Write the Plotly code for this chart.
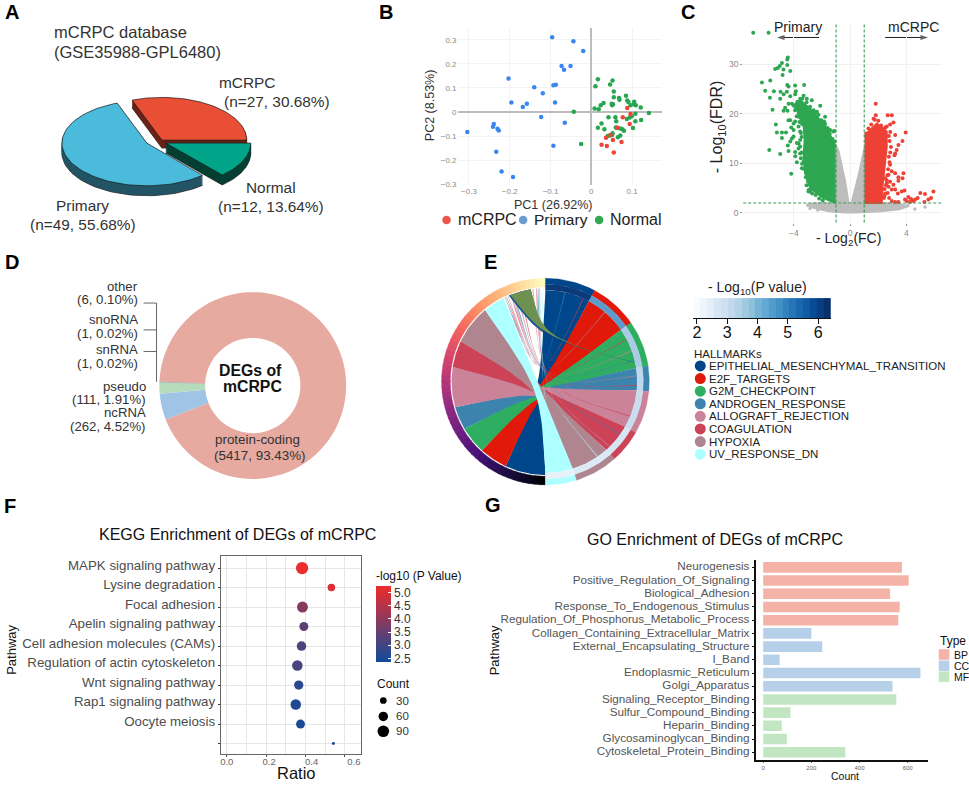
import math
import numpy as np
import plotly.graph_objects as go
from plotly.colors import sample_colorscale

W, H = 969, 785
FONT = "Liberation Sans"

# ---------- A: 3D pie ----------
a_labels = ["mCRPC", "Primary", "Normal"]
a_counts = [27, 49, 12]
a_top = ["#E94F35", "#4ABBDA", "#00A488"]
a_side = ["#6B2218", "#235566", "#063F33"]

# ---------- B: PCA ----------
b_blue_x = [-0.096,-0.044,-0.020,-0.073,-0.067,-0.051,-0.203,-0.140,-0.093,-0.087,-0.119,-0.196,-0.158,-0.168,-0.089,-0.123,-0.065,-0.093,-0.239,-0.241,-0.230,-0.227,-0.304,-0.233,-0.220,-0.192]
b_blue_y = [0.311,0.294,0.254,0.191,0.176,0.191,0.139,0.103,0.111,0.113,0.078,0.039,0.034,0.021,0.039,-0.021,-0.045,-0.140,-0.050,-0.061,-0.070,-0.077,-0.083,-0.165,-0.248,-0.270]
b_green_x = [-0.043,-0.025,0.010,0.016,0.046,0.052,0.055,0.055,0.068,0.069,0.085,0.088,0.091,0.030,0.023,0.008,0.018,0.050,0.053,0.051,0.096,0.104,0.109,0.105,0.121,0.141,0.108,0.099,0.094,0.087,0.108,0.122,0.102,0.042,0.025,0.016,0.032,0.059,0.061,0.060,0.065,0.071,0.076,0.080,0.071,0.065,0.052,0.051,0.040,0.046]
b_green_y = [0.001,-0.133,0.107,0.136,0.114,0.131,0.085,0.061,0.058,0.051,0.067,0.048,0.041,0.037,0.028,0.014,0.011,0.034,0.032,0.028,0.028,0.032,0.028,0.043,0.019,-0.004,-0.007,-0.018,-0.023,-0.029,-0.039,-0.033,-0.067,-0.022,-0.048,-0.066,-0.072,-0.022,-0.039,-0.065,-0.067,-0.069,-0.072,-0.078,-0.098,-0.105,-0.088,-0.096,-0.100,-0.098]
b_red_x = [0.088,0.096,0.077,0.094,0.063,0.036,0.053,0.074,0.025,0.038,0.055,0.047]
b_red_y = [0.017,-0.008,-0.022,-0.050,-0.066,-0.107,-0.117,-0.125,-0.136,-0.142,-0.169,-0.096]

# ---------- C: volcano (dense clouds read as outlines, outer genes read one by one) ----------
c_grey_x = [-1.02,-0.83,-0.36,-0.07,0,0.08,0.59,1.02,1.02,3.2,4.2,3.5,2,0.3,-0.3,-1.5,-2.6,-3.1,-2.5,-1.02]
c_grey_y = [13.7,12.7,6.7,2.0,0.4,2.0,7.7,13.3,2,2,1.4,0.7,0.25,0.05,0.05,0.3,1.0,1.7,2,2]
c_grey_px = [-3.0,-2.85,-2.5,-2.3,-2.0,4.6,5.32,3.9,3.4,4.1]
c_grey_py = [1.5,0.9,1.1,0.6,0.9,0.8,1.2,1.3,1.1,1.6]
c_green_x = [-1.02,-1.9,-2.84,-3.2,-3.31,-3.24,-3.3,-3.7,-3.9,-3.55,-2.73,-2.2,-1.78,-1.4,-1.02]
c_green_y = [2,3,5,8,11.3,14.7,17.4,20,22,22.7,20.7,19,17.5,15.5,13.4]
c_green_px = [-6.89,-5.80,-4.43,-4.47,-4.85,-4.47,-5.0,-5.14,-5.33,-4.74,-4.26,-4.80,-5.68,-6.27,-4.47,-4.38,-3.91,-3.27,-6.04,-5.42,-4.95,-5.70,-4.97,-4.73,-4.5,-4.26,-3.86,-3.91,-5.52,-4.62,-4.73,-4.45,-5.28,-4.14,-4.19,-5.21,-4.85,-4.56,-4.85,-5.75,-4.97,-4.38,-4.19,-4.43,-4.14,-3.9,-3.67,-3.79,-2.96,-1.46,-1.13,-3.91,-3.55,-3.67,-3.31,-3.07,-3.43,-2.84,-2.6,-2.84,-3.55,-3.67,-4.02,-4.38,-3.91,-4.02,-4.26,-3.79,-3.55,-3.55,-1.78,-1.43,-1.2,-2.13,-2.13,-1.78,-2.6,-2.36,-3.08,-2.73,-3.55,-3.31,-4.38,-3.91,-4.26,-3.67,-4.02,-3.31,
              -3.45,-3.5,-3.42,-3.3,-3.15,-3.0,-3.1,-2.95,-2.7,-2.45,-2.2,-1.95,-3.45,-3.5,-3.42,-3.6,-3.8,-3.85,-4.0,-3.75,-3.4,-3.1,-2.85,-2.5,-2.25,-2.05,-1.85,-1.6,-1.45,-1.25,-1.1]
c_green_py = [36.3,36.3,31.3,30.9,30.2,29.8,29.6,29.2,29.0,28.9,28.6,27.8,26.7,26.3,25.8,25.5,25.7,25.8,24.6,24.5,24.4,23.2,23.0,23.9,24.4,23.5,24.5,23.9,20.8,21.2,20.6,20.6,17.8,22.0,17.2,16.2,16.2,16.2,15.1,12.7,11.9,12.5,7.9,13.6,15.0,11.4,14.0,10.2,4.3,16.6,16.5,12.3,12.0,13.0,10.3,9.4,9.0,7.0,6.7,4.3,16.4,17.4,16.7,18.7,18.4,15.4,14.4,14.1,13.4,14.7,17.9,16.7,16.4,18.0,21.6,19.4,20.7,20.4,23.0,22.7,23.0,23.6,22.0,20.7,18.7,19.4,18.0,18.7,
              12.2,11.0,9.9,8.9,7.2,6.4,5.6,4.6,3.9,3.6,2.9,2.5,15.3,16.1,17.9,18.3,19.5,21.0,21.6,22.4,23.0,22.3,21.4,20.2,19.8,18.7,18.4,17.1,15.9,14.9,14.4]
c_red_x = [1.02,2.25,2.3,2.44,2.6,2.6,1.9,1.42,1.02]
c_red_y = [2,2,5.3,9.3,13.3,16.4,18.0,16.7,15.4]
c_red_px = [1.82,1.82,1.66,2.67,2.96,3.08,2.84,3.95,3.2,3.72,3.43,3.31,3.2,3.15,2.84,2.96,3.2,2.73,3.43,3.79,3.72,3.43,3.08,2.84,3.2,3.67,3.86,3.39,2.67,2.96,2.77,3.9,4.14,4.33,4.5,4.62,4.8,4.03,4.26,5.32,4.99,5.92,5.75,5.56,5.28,3.2,3.43,2.96,2.44,2.6,2.49,2.73,2.13,
            2.4,2.5,2.45,2.55,2.6,2.65,2.7,2.8,2.75,2.85,2.9,2.8,2.75,2.85,2.5,2.2,2.0,1.75,1.5,1.3,1.15,2.35,2.6]
c_red_py = [22.0,19.7,19.0,19.7,19.7,18.2,17.8,16.2,15.7,14.5,13.7,12.7,12.0,11.6,9.7,8.4,8.0,7.7,7.2,8.0,7.0,6.5,5.7,6.3,4.7,4.3,4.5,3.9,4.0,4.7,3.0,2.7,3.2,2.8,2.4,2.7,3.0,2.4,2.2,3.8,4.0,4.3,3.0,2.7,2.2,2.2,2.2,2.4,3.4,6.0,7.0,5.3,3.3,
            3.0,3.9,4.8,5.6,6.6,7.6,8.8,10.2,11.3,12.2,13.3,14.5,15.5,16.3,17.2,17.6,18.6,18.8,17.8,17.0,16.0,16.9,17.4]

# ---------- D: donut ----------
d_labels = ["protein-coding", "ncRNA", "pseudo", "snRNA", "snoRNA", "other"]
d_values = [5417, 262, 111, 1, 1, 6]
d_colors = ["#E6AAA1", "#A0C4E6", "#B5DBBD", "#999999", "#999999", "#999999"]

# ---------- E: chord ----------
e_names = ["EPITHELIAL_MESENCHYMAL_TRANSITION","E2F_TARGETS","G2M_CHECKPOINT","ANDROGEN_RESPONSE","ALLOGRAFT_REJECTION","COAGULATION","HYPOXIA","UV_RESPONSE_DN"]
e_colors = ["#00468B","#E0190A","#2EAE60","#3C84AE","#CB8399","#CC4256","#AF8590","#AEFFFF"]
e_heat = ["#0A3A7A","#5A9CCB","#A9CBE3","#BDD7EC","#C8DDF0","#D5E5F3","#DCEAF5","#E8F1FA"]
e_right_size = [28.3,27.1,26.0,14.1,24.2,18.7,24.3,17.3]
e_left_size = [25.0,17.5,17.0,14.5,25.0,16.5,24.5,13.4]
e_thin_right = [12,24,40,62,70,76,86,92,100,112,125,135,145,168]
e_thin_left = [334,335,336,338,339,340,342,344,352,354,355,356,357,358]
e_thin_color = [3,5,6,5,4,3,6,5,4,5,3,4,7,7]
e_bar_values = [2.0,2.2,2.45,2.7,2.9,3.15,3.35,3.6,3.8,4.05,4.25,4.5,4.7,4.95,5.15,5.4,5.6,5.85,6.05,6.3]

# ---------- F: KEGG ----------
f_pathways = ["MAPK signaling pathway","Lysine degradation","Focal adhesion","Apelin signaling pathway","Cell adhesion molecules (CAMs)","Regulation of actin cytoskeleton","Wnt signaling pathway","Rap1 signaling pathway","Oocyte meiosis","\u00a0"]
f_ratio = [0.383,0.532,0.385,0.392,0.380,0.359,0.366,0.351,0.375,0.542]
f_logp = [5.2,5.0,3.9,3.4,3.2,3.1,2.7,2.6,2.55,2.4]
f_count = [102,38,81,54,61,74,58,74,54,6]
f_legend_counts = [30,60,90]

# ---------- G: GO ----------
g_bp = ["Neurogenesis","Positive_Regulation_Of_Signaling","Biological_Adhesion","Response_To_Endogenous_Stimulus","Regulation_Of_Phosphorus_Metabolic_Process"]
g_bp_v = [576,604,527,567,561]
g_cc = ["Collagen_Containing_Extracellular_Matrix","External_Encapsulating_Structure","I_Band","Endoplasmic_Reticulum","Golgi_Apparatus"]
g_cc_v = [200,245,68,653,537]
g_mf = ["Signaling_Receptor_Binding","Sulfur_Compound_Binding","Heparin_Binding","Glycosaminoglycan_Binding","Cytoskeletal_Protein_Binding"]
g_mf_v = [553,113,77,98,341]
g_types = ["BP","CC","MF"]
g_colors = ["#F4B3A6","#B7D0EA","#C2E6C2"]

fig = go.Figure()
ann = []
shapes = []


def T(x, y, text, size=13, color="#222222", anchor="left", bold=False, angle=0):
    if bold:
        text = "<b>" + text + "</b>"
    if angle == 0:
        x = x - 1.5 if anchor == "left" else (x + 1.5 if anchor == "right" else x)
    ann.append(dict(x=x, y=y, xref="x", yref="y", text=text, showarrow=False,
                    xanchor=anchor, yanchor="middle", textangle=angle,
                    font=dict(family=FONT, size=size, color=color)))


def poly(xs, ys, fill, line=None, lw=0, xa="x", ya="y", opacity=1):
    fig.add_trace(go.Scatter(x=xs, y=ys, mode="lines", fill="toself", fillcolor=fill,
                             line=dict(color=line or fill, width=lw), hoverinfo="skip",
                             showlegend=False, xaxis=xa, yaxis=ya, opacity=opacity))


def dots(xs, ys, color, size, xa="x", ya="y", symbol="circle"):
    fig.add_trace(go.Scatter(x=xs, y=ys, mode="markers", hoverinfo="skip", showlegend=False,
                             marker=dict(color=color, size=size, symbol=symbol, line=dict(width=0)),
                             xaxis=xa, yaxis=ya))


def dx(l, r):
    return [l / W, r / W]


def dy(t, b):
    return [1 - b / H, 1 - t / H]


# ========== A ==========
a_frac = np.array(a_counts) / sum(a_counts) * 360
a_start = [0, a_frac[0], a_frac[0] + a_frac[1]]
a_centre = [(161, 140), (146, 143), (165, 143)]
a_depth = [8, 10, 10]
RX, RY = 85, 43
for i in [1, 0, 2]:
    cx, cy = a_centre[i]
    th = np.radians(np.linspace(a_start[i], a_start[i] + a_frac[i], 70))
    px = [cx] + list(cx + RX * np.cos(th)) + [cx]
    py = [cy] + list(cy - RY * np.sin(th)) + [cy]
    t = a_depth[i]
    poly(px, [v + t for v in py], a_side[i], "#1a1a1a", 0.7)
    for s in range(t - 1, 0, -1):
        poly(px, [v + s for v in py], a_side[i], a_side[i], 0.5)
    poly(px, py, a_top[i], "#1a1a1a", 0.7)

T(52.7, 31, "mCRPC database", 16.5, "#333333")
T(52.7, 51.7, "(GSE35988-GPL6480)", 16.5, "#333333")
T(218, 81.7, "mCRPC", 15.4, "#333333")
T(223, 100.7, "(n=27, 30.68%)", 15.4, "#333333")
T(245, 188, "Normal", 15.4, "#333333")
T(216.7, 207, "(n=12, 13.64%)", 15.4, "#333333")
T(54.3, 205.7, "Primary", 15.4, "#333333")
T(29, 225, "(n=49, 55.68%)", 15.4, "#333333")

# ========== B ==========
dots(b_blue_x, b_blue_y, "#3A86F0", 4.5, "x2", "y2")
dots(b_green_x, b_green_y, "#27A651", 4.5, "x2", "y2")
dots(b_red_x, b_red_y, "#F04438", 4.5, "x2", "y2")
T(552.7, 205.3, "PC1 (26.92%)", 12.5, "#333333", "center")
T(429.3, 105, "PC2 (8.53%)", 12.5, "#333333", "center", angle=-90)
dots([446], [220.3], "#F0544A", 8.5)
dots([522.7], [220.3], "#6B9BD2", 8.5)
dots([598.7], [220.3], "#2FA84F", 8.5)
T(456.7, 220.3, "mCRPC", 16, "#222222")
T(533.3, 220.3, "Primary", 15.5, "#222222")
T(609.3, 220.3, "Normal", 16, "#222222")

# ========== C ==========
poly(c_grey_x, c_grey_y, "#BDBDBD", "#BDBDBD", 1.5, "x3", "y3")
dots(c_grey_px, c_grey_py, "#BDBDBD", 3.5, "x3", "y3")
poly(c_green_x, c_green_y, "#2FA651", "#2FA651", 2, "x3", "y3")
dots(c_green_px, c_green_py, "#2FA651", 4, "x3", "y3")
poly(c_red_x, c_red_y, "#EE4136", "#EE4136", 2, "x3", "y3")
dots(c_red_px, c_red_py, "#EE4136", 4, "x3", "y3")
dash = dict(color="#3B9A57", width=1.1, dash="3px,2px")
shapes.append(dict(type="line", xref="x3", yref="y3 domain", x0=-1, x1=-1, y0=0, y1=1, line=dash))
shapes.append(dict(type="line", xref="x3", yref="y3 domain", x0=1, x1=1, y0=0, y1=1, line=dash))
shapes.append(dict(type="line", xref="x3 domain", yref="y3", x0=0, x1=1, y0=2, y1=2, line=dash))
T(798, 26, "Primary", 14, "#222222", "center")
T(913, 26, "mCRPC", 14, "#222222", "center")
for x0, x1 in [(819, 776.7), (885, 928)]:
    fig.add_trace(go.Scatter(x=[x0, x1], y=[36.7, 36.7], mode="lines+markers", hoverinfo="skip", showlegend=False,
                             line=dict(color="#222222", width=1),
                             marker=dict(symbol="arrow", angleref="previous", size=[0, 8], color="#222222", line=dict(width=0))))
T(718, 126.7, "- Log<sub>10</sub>(FDR)", 16, "#222222", "center", angle=-90)
T(848, 240, "- Log<sub>2</sub>(FC)", 14, "#222222", "center")

# ========== D ==========
r_d = 94
fig.add_trace(go.Pie(labels=d_labels, values=d_values, hole=0.51, sort=False, direction="clockwise",
                     rotation=272.4, textinfo="none", hoverinfo="skip", showlegend=False,
                     marker=dict(colors=d_colors, line=dict(width=0)),
                     domain=dict(x=dx(252 - r_d, 252 + r_d), y=dy(387 - r_d, 387 + r_d))))
for y0, x0, x1, y1 in [(304, 142.7, 155.7, 304), (331, 142.7, 155.7, 331), (352.7, 142.7, 155.7, 352.7), (304, 155.7, 155.7, 383.3)]:
    shapes.append(dict(type="line", xref="x", yref="y", x0=x0, x1=x1, y0=y0, y1=y1, line=dict(color="#666666", width=1)))
for y, txt, r in [(287.7, "other", 138), (300.7, "(6, 0.10%)", 138), (321, "snoRNA", 138), (335, "(1, 0.02%)", 138),
                  (351, "snRNA", 138), (365, "(1, 0.02%)", 138), (388.3, "pseudo", 145.7), (401.3, "(111, 1.91%)", 145.7),
                  (414, "ncRNA", 145.7), (428, "(262, 4.52%)", 145.7)]:
    T(r, y, txt, 13.2, "#333333", "right")
T(257, 441.7, "protein-coding", 13.4, "#333333", "center")
T(259, 457.3, "(5417, 93.43%)", 13.4, "#333333", "center")
T(250, 372.3, "DEGs of", 15.8, "#111111", "center", bold=True)
T(252, 388, "mCRPC", 15.8, "#111111", "center", bold=True)

# ========== E ==========
CX, CY = 545, 383
R_OUT, R_MID, R_IN, R_LEFT = 104, 98, 92, 94


def pos(deg, r):
    a = math.radians(deg)
    return CX + r * math.sin(a), CY - r * math.cos(a)


def arc(d0, d1, r, n=24):
    pts = [pos(d, r) for d in np.linspace(d0, d1, n)]
    return [p[0] for p in pts], [p[1] for p in pts]


def band(d0, d1, r0, r1, color):
    x0, y0 = arc(d0, d1, r1)
    x1, y1 = arc(d1, d0, r0)
    poly(x0 + x1 + [x0[0]], y0 + y1 + [y0[0]], color, color, 0.3)


def curve(p0, p3, c1, c2, n=36):
    t = np.linspace(0, 1, n)
    xs = (1 - t) ** 3 * p0[0] + 3 * (1 - t) ** 2 * t * c1[0] + 3 * (1 - t) * t ** 2 * c2[0] + t ** 3 * p3[0]
    ys = (1 - t) ** 3 * p0[1] + 3 * (1 - t) ** 2 * t * c1[1] + 3 * (1 - t) * t ** 2 * c2[1] + t ** 3 * p3[1]
    return list(xs), list(ys)


KNOT = (CX - 5, CY + 8)


def ribbon(a0, a1, ra, b0, b1, rb, color, c1=KNOT, c2=KNOT, opacity=1):
    ax, ay = arc(a0, a1, ra)
    bx, by = arc(b0, b1, rb)
    sx, sy = curve(pos(a1, ra), pos(b0, rb), c1, c2)
    ex, ey = curve(pos(b1, rb), pos(a0, ra), c2, c1)
    poly(ax + sx + bx + ex, ay + sy + by + ey, color, color, 0, opacity=opacity)


right_edges = np.concatenate([[0], np.cumsum(e_right_size)])
left_edges = 180 + np.concatenate([[0], np.cumsum(e_left_size)])

# left rim: continuous magma gradient from bottom to top
steps = np.linspace(180, 360, 61)
for d0, d1, col in zip(steps[:-1], steps[1:], sample_colorscale("Magma", list(np.linspace(0, 0.995, 60)))):
    band(d0, d1 + 0.3, R_LEFT + 1.2, R_OUT, col)

for i in range(8):
    ribbon(right_edges[i], right_edges[i + 1], R_IN, left_edges[i], left_edges[i + 1], R_LEFT, e_colors[i])
for a, b, c in zip(e_thin_right, e_thin_left, e_thin_color):
    ribbon(a, a + 0.7, R_IN, b, b + 0.7, R_LEFT, e_colors[c], opacity=0.65)
# navy and olive wedges at the top of the left half
wedge_c = (CX - 3, CY - 43)
ribbon(78, 78.2, R_IN, 337, 351, R_LEFT, "#00468B", wedge_c, wedge_c, opacity=0.9)
ribbon(80, 80.3, R_IN, 338, 351, R_LEFT, "#6C9150", (CX - 3, CY - 46), (CX - 3, CY - 46))
for i in range(8):
    band(right_edges[i], right_edges[i + 1], R_MID, R_OUT, e_colors[i])
    band(right_edges[i], right_edges[i + 1], R_IN, R_MID, e_heat[i])

fig.add_trace(go.Heatmap(z=[e_bar_values], x=e_bar_values, colorscale="Blues", showscale=False,
                         hoverinfo="skip", xaxis="x4", yaxis="y4"))
T(757, 289, "- Log<sub>10</sub>(P value)", 14, "#222222", "center")
T(693.5, 355, "HALLMARKs", 11.5, "#222222")
for i, name in enumerate(e_names):
    yy = 367.3 + i * 12.68
    dots([700], [yy], e_colors[i], 11)
    T(708, yy, name, 11.5, "#222222")

# ========== F ==========
f_size = [1.22 * math.sqrt(c) for c in f_count]
fig.add_trace(go.Scatter(x=f_ratio, y=f_pathways, mode="markers", hoverinfo="skip", showlegend=False,
                         xaxis="x5", yaxis="y5",
                         marker=dict(size=f_size, color=f_logp, cmin=2.37, cmax=5.25, opacity=1,
                                     colorscale=[[0, "#0F4C9C"], [1, "#F02B2B"]], line=dict(width=0),
                                     colorbar=dict(x=375 / W, xanchor="left", y=1 - (589 + 664.7) / 2 / H, yanchor="middle",
                                                   len=75.7, lenmode="pixels", thickness=15, thicknessmode="pixels",
                                                   tickvals=[2.5, 3, 3.5, 4, 4.5, 5], ticktext=["2.5", "3.0", "3.5", "4.0", "4.5", "5.0"],
                                                   ticks="inside", ticklen=3, tickcolor="#ffffff", outlinewidth=0,
                                                   xpad=0, ypad=0, tickfont=dict(family=FONT, size=12, color="#333333")))))
fig.add_trace(go.Scatter(x=[0, 0.6], y=[0, 0], mode="markers", marker=dict(opacity=0), hoverinfo="skip",
                         showlegend=False, xaxis="x6", yaxis="y6"))
T(236.7, 537, "KEGG Enrichment of DEGs of mCRPC", 16, "#111111", "center")
T(296, 777, "Ratio", 16.5, "#111111", "center")
T(11, 653, "Pathway", 13, "#111111", "center", angle=-90)
T(375, 579, "-log10 (P Value)", 12, "#111111")
T(375.7, 687, "Count", 12, "#111111")
for c, yy in zip(f_legend_counts, [704, 720, 735]):
    dots([382.7], [yy], "#000000", 1.22 * math.sqrt(c))
    T(395, yy, str(c), 11.5, "#333333")

# ========== G ==========
for cats, vals, col in [(g_bp, g_bp_v, g_colors[0]), (g_cc, g_cc_v, g_colors[1]), (g_mf, g_mf_v, g_colors[2])]:
    fig.add_trace(go.Bar(x=vals, y=cats, orientation="h", marker=dict(color=col, line=dict(width=0)), width=0.8,
                         hoverinfo="skip", showlegend=False, xaxis="x7", yaxis="y7"))
T(715, 541.7, "GO Enrichment of DEGs of mCRPC", 16, "#111111", "center")
T(845, 779.5, "Count", 10.5, "#111111", "center")
T(494, 653, "Pathway", 13, "#111111", "center", angle=-90)
T(939, 644, "Type", 12, "#111111")
for t, c, yy in zip(g_types, g_colors, [657.7, 669, 680]):
    dots([944], [yy], c, 10.5, symbol="square")
    T(953, yy, t, 10.5, "#111111")

for t, x, y in [("A", 3, 11), ("B", 378, 11), ("C", 680, 11), ("D", 3, 263), ("E", 483, 263), ("F", 2, 508), ("G", 484, 507)]:
    T(x, y, t, 20, "#000000", bold=True)

g_order = (g_bp + g_cc + g_mf)[::-1]
hidden = dict(visible=False, showgrid=False, zeroline=False)
fig.update_layout(
    width=W, height=H, margin=dict(l=0, r=0, t=0, b=0), paper_bgcolor="#ffffff", plot_bgcolor="rgba(0,0,0,0)",
    font=dict(family=FONT), showlegend=False, annotations=ann, shapes=shapes, barmode="overlay",
    xaxis=dict(domain=[0, 1], range=[0, W], **hidden),
    yaxis=dict(domain=[0, 1], range=[H, 0], **hidden),
    xaxis2=dict(domain=dx(457, 662), range=[-0.328, 0.174], anchor="y2", dtick=0.1, gridcolor="#F3F3F3",
                zeroline=True, zerolinecolor="#BDBDBD", zerolinewidth=2, showline=False,
                tickfont=dict(family=FONT, size=8, color="#8A8A8A"), ticks=""),
    yaxis2=dict(domain=dy(27, 185), range=[-0.303, 0.35], anchor="x2", dtick=0.1, gridcolor="#F3F3F3",
                zeroline=True, zerolinecolor="#BDBDBD", zerolinewidth=2, showline=False,
                tickfont=dict(family=FONT, size=8, color="#8A8A8A"), ticks=""),
    xaxis3=dict(domain=dx(743, 941.7), range=[-7.6, 6.51], anchor="y3", tickvals=[-4, 0, 4], gridcolor="#F1F1F1",
                zeroline=False, tickfont=dict(family=FONT, size=8.5, color="#8A8A8A"), ticks="outside", ticklen=2, tickcolor="#999999"),
    yaxis3=dict(domain=dy(23, 223), range=[-1.94, 38.1], anchor="x3", tickvals=[0, 10, 20, 30], gridcolor="#F1F1F1",
                zeroline=False, tickfont=dict(family=FONT, size=8.5, color="#8A8A8A"), ticks="outside", ticklen=2, tickcolor="#999999"),
    xaxis4=dict(domain=dx(693, 830.7), range=[1.88, 6.42], anchor="y4", tickvals=[2, 3, 4, 5, 6], showgrid=False,
                zeroline=False, showline=True, linecolor="#111111", linewidth=1, ticks="outside", ticklen=5, tickcolor="#111111",
                ticklabelstandoff=-5, tickfont=dict(family=FONT, size=16, color="#111111")),
    yaxis4=dict(domain=dy(299, 319), anchor="x4", **hidden),
    xaxis5=dict(domain=dx(220, 360.7), range=[-0.03, 0.684], anchor="y5", tickvals=[0, 0.2, 0.4, 0.6], showticklabels=False,
                gridcolor="#E6E6E6", zeroline=False, showline=True, mirror=True, linecolor="#666666", linewidth=1,
                minor=dict(dtick=0.1, tick0=0, showgrid=True, gridcolor="#E6E6E6", ticks=""),
                ticks="outside", ticklen=2, tickcolor="#555555"),
    yaxis5=dict(domain=dy(558.7, 758.3), type="category", categoryorder="array", categoryarray=f_pathways[::-1],
                tickmode="array", tickvals=f_pathways, ticktext=f_pathways,
                range=[-0.56, 9.61], anchor="x5", gridcolor="#E6E6E6", zeroline=False, showline=True, mirror=True,
                linecolor="#666666", linewidth=1, ticks="outside", ticklen=2, tickcolor="#333333", ticklabelshift=-3,
                tickfont=dict(family=FONT, size=13.3, color="#4D4D4D")),
    xaxis6=dict(domain=dx(220, 360.7), range=[(220 - 226) / 212.2, (360.7 - 226) / 212.2], anchor="y6",
                tickvals=[0, 0.2, 0.4, 0.6], ticktext=["0.0", "0.2", "0.4", "0.6"], showgrid=False, zeroline=False,
                showline=False, ticks="", tickfont=dict(family=FONT, size=9.5, color="#666666")),
    yaxis6=dict(domain=dy(558.7, 758.3), anchor="x6", **hidden),
    xaxis7=dict(domain=dx(755.3, 928), range=[-32, 684.6], anchor="y7", tickvals=[0, 200, 400, 600], showgrid=False,
                zeroline=False, showline=True, linecolor="#111111", linewidth=1.5, ticks="outside", ticklen=1, tickcolor="#777777",
                tickfont=dict(family=FONT, size=6, color="#666666")),
    yaxis7=dict(domain=dy(562.7, 764.3), type="category", categoryorder="array", categoryarray=g_order,
                tickmode="array", tickvals=g_order, ticktext=g_order,
                range=[-0.62, 14.55], anchor="x7", showgrid=False, zeroline=False, showline=True, linecolor="#111111", linewidth=1.5,
                ticks="outside", ticklen=2, tickcolor="#111111", ticklabelshift=-1,
                tickfont=dict(family=FONT, size=11.7, color="#555555")),
)
fig.write_html("out.html", config={"displayModeBar": False},
               post_script="document.body.style.margin='0';document.documentElement.style.overflow='hidden';")
